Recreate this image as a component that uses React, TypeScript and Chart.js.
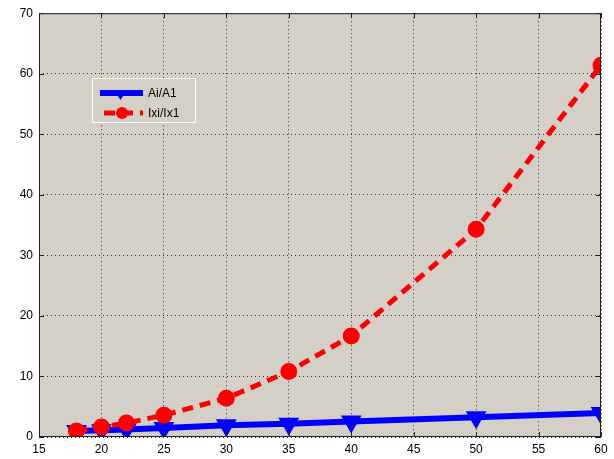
import React, { useEffect, useRef } from "react";
import { Chart, registerables } from "chart.js";

Chart.register(...registerables);

const xValues = [18, 20, 22, 25, 30, 35, 40, 50, 60];
const areaRatio = [1.0, 1.1, 1.25, 1.5, 1.95, 2.2, 2.55, 3.25, 3.95];
const inertiaRatio = [1.0, 1.65, 2.3, 3.6, 6.4, 10.8, 16.7, 34.3, 61.4];
const seriesLabels = ["Ai/A1", "Ixi/Ix1"];
const xTicks = [15, 20, 25, 30, 35, 40, 45, 50, 55, 60];
const yTicks = [0, 10, 20, 30, 40, 50, 60, 70];

const PLOT_BG = "#d4d0c8";
const FONT = "Liberation Sans, Arial, sans-serif";

const framePlugin = {
  id: "frame",
  beforeDraw(chart: any) {
    const { ctx, chartArea: a } = chart;
    ctx.save();
    ctx.fillStyle = PLOT_BG;
    ctx.fillRect(a.left, a.top, a.right - a.left, a.bottom - a.top);
    ctx.restore();
  },
  afterDatasetsDraw(chart: any) {
    const { ctx, chartArea: a, scales } = chart;
    ctx.save();
    ctx.strokeStyle = "#222";
    ctx.lineWidth = 1;
    ctx.setLineDash([]);
    ctx.strokeRect(a.left + 0.5, a.top + 0.5, a.right - a.left - 1, a.bottom - a.top - 1);
    // inward ticks
    ctx.beginPath();
    xTicks.forEach((v) => {
      const x = Math.round(scales.x.getPixelForValue(v)) + 0.5;
      ctx.moveTo(x, a.bottom);
      ctx.lineTo(x, a.bottom - 5);
      ctx.moveTo(x, a.top);
      ctx.lineTo(x, a.top + 5);
    });
    yTicks.forEach((v) => {
      const y = Math.round(scales.y.getPixelForValue(v)) + 0.5;
      ctx.moveTo(a.left, y);
      ctx.lineTo(a.left + 5, y);
      ctx.moveTo(a.right, y);
      ctx.lineTo(a.right - 5, y);
    });
    ctx.stroke();

    // legend
    const lx = 92, ly = 78, lw = 103, lh = 44;
    ctx.fillStyle = PLOT_BG;
    ctx.fillRect(lx, ly, lw, lh);
    ctx.strokeStyle = "#ffffff";
    ctx.strokeRect(lx + 0.5, ly + 0.5, lw, lh);

    const ds = chart.data.datasets;
    const rows = [93, 113];
    ds.forEach((d: any, i: number) => {
      const y = rows[i];
      ctx.strokeStyle = d.borderColor;
      ctx.lineWidth = d.borderWidth;
      ctx.setLineDash(d.borderDash || []);
      ctx.beginPath();
      ctx.moveTo(i === 0 ? 100 : 104, y);
      ctx.lineTo(143, y);
      ctx.stroke();
      ctx.setLineDash([]);
      ctx.fillStyle = d.pointBackgroundColor;
      ctx.beginPath();
      if (i === 0) {
        ctx.moveTo(114, y - 3);
        ctx.lineTo(127, y - 3);
        ctx.lineTo(120.5, y + 7);
        ctx.closePath();
      } else {
        ctx.arc(122, y, 6, 0, Math.PI * 2);
      }
      ctx.fill();
      ctx.fillStyle = "#000";
      ctx.font = `12px ${FONT}`;
      ctx.textBaseline = "middle";
      ctx.textAlign = "left";
      ctx.fillText(d.label, 148, y + 1);
    });
    ctx.restore();
  },
};

export default function App() {
  const ref = useRef<HTMLCanvasElement | null>(null);
  useEffect(() => {
    if (!ref.current) return;
    const chart = new Chart(ref.current, {
      type: "line",
      data: {
        datasets: [
          {
            label: seriesLabels[0],
            data: xValues.map((x, i) => ({ x, y: areaRatio[i] })),
            borderColor: "#0000ff",
            backgroundColor: "#0000ff",
            pointBackgroundColor: "#0000ff",
            pointBorderColor: "#0000ff",
            borderWidth: 6,
            pointStyle: "triangle",
            rotation: 180,
            pointRadius: 6,
            tension: 0,
            order: 1,
          },
          {
            label: seriesLabels[1],
            data: xValues.map((x, i) => ({ x, y: inertiaRatio[i] })),
            borderColor: "#ff0000",
            backgroundColor: "#ff0000",
            pointBackgroundColor: "#ff0000",
            pointBorderColor: "#ff0000",
            borderWidth: 5,
            borderDash: [11, 7],
            pointStyle: "circle",
            pointRadius: 6,
            tension: 0,
            order: 0,
          },
        ],
      },
      options: {
        animation: false,
        responsive: false,
        maintainAspectRatio: false,
        layout: { padding: { top: 13, right: 13, left: 0, bottom: 0 } },
        plugins: { legend: { display: false }, tooltip: { enabled: false } },
        scales: {
          x: {
            type: "linear",
            min: 15,
            max: 60,
            afterBuildTicks(s: any) {
              s.ticks = xTicks.map((v) => ({ value: v }));
            },
            afterFit(s: any) {
              s.height = 22;
            },
            grid: { display: true, color: "#333", lineWidth: 1, drawTicks: false },
            border: { display: false, dash: [1, 3] },
            ticks: { color: "#000", font: { family: FONT, size: 12 }, padding: 5, maxRotation: 0 },
          },
          y: {
            type: "linear",
            min: 0,
            max: 70,
            afterBuildTicks(s: any) {
              s.ticks = yTicks.map((v) => ({ value: v }));
            },
            afterFit(s: any) {
              s.width = 39;
            },
            grid: { display: true, color: "#333", lineWidth: 1, drawTicks: false },
            border: { display: false, dash: [1, 3] },
            ticks: { color: "#000", font: { family: FONT, size: 12 }, padding: 6 },
          },
        },
      },
      plugins: [framePlugin],
    } as any);
    return () => chart.destroy();
  }, []);
  return (
    <div style={{ position: "fixed", left: 0, top: 0, width: 614, height: 459, background: "#fff" }}>
      <canvas ref={ref} width={614} height={459} style={{ width: 614, height: 459 }} />
    </div>
  );
}
